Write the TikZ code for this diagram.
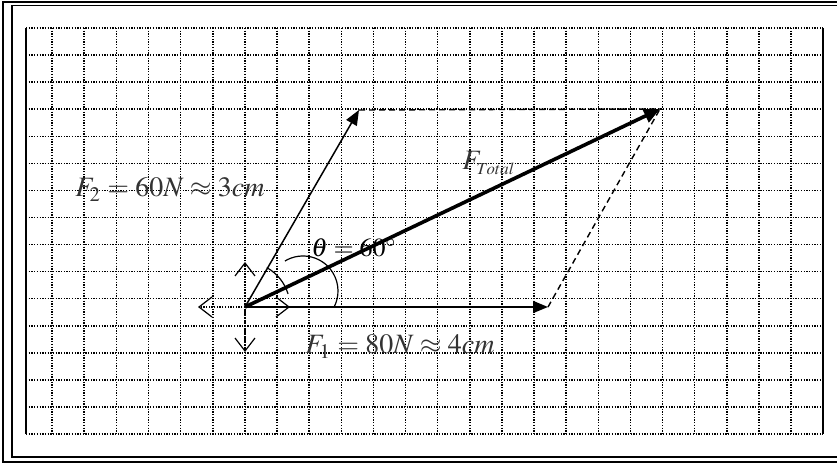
\documentclass[tikz,border=0pt]{standalone}
\usepackage{amsmath}
\usepackage{mathptmx}
\usetikzlibrary{arrows.meta, positioning, calc}

\begin{document}
\begin{tikzpicture}[x=0.5pt, y=-0.5pt,
  gridline/.style={line width=0.75pt, dash pattern=on 0.65pt off 0.7pt},
  force/.style={line width=0.75pt, -{Triangle[length=7.5pt,width=6pt]}},
  result/.style={line width=1.8pt, -{Triangle[length=8pt,width=7pt]}},
  helper/.style={line width=0.7pt, dash pattern=on 3pt off 2pt},
  axisline/.style={gridline, -{Straight Barb[length=6.5pt,width=10pt,line width=0.6pt]}},
  lbl/.style={font=\fontsize{14}{16}\selectfont, text=black!80, inner sep=0pt}]
\useasboundingbox (0,0) rectangle (837,464);
% double frame
\draw[line width=1.3pt] (837,2) -- (3,2) -- (3,462) -- (837,462);
\draw[line width=0.8pt] (837,5.7) -- (12,5.7) -- (12,457) -- (837,457);
% squared paper
\foreach \k in {0,...,15}
  \draw[gridline] (26,{28+27.07*\k}) -- (823,{28+27.07*\k});
\foreach \k in {0,...,23}
  \draw[gridline] ({52.1+32.13*\k},28) -- ({52.1+32.13*\k},434);
\draw[line width=0.8pt] (26,28) -- (26,434);
\draw[line width=0.8pt] (823,28) -- (823,434);

\coordinate (O) at (245,307);
\coordinate (F1) at (548,307);
\coordinate (F2) at (359,110);
\coordinate (R) at (660,109);
\coordinate (axL) at (198,307);
\coordinate (axU) at (245,262);
\coordinate (axD) at (245,352);
\coordinate (axR) at (290,307);
\coordinate (arcC) at (303,291);

% axes at the origin
\foreach \tip in {axL,axU,axD,axR}
  \draw[axisline] (O) -- (\tip);

% forces
\draw[helper] (F2) -- (R);
\draw[helper] (F1) -- (R);
\draw[force] (O) -- (F1);
\draw[force] (O) -- (F2);
\draw[result] (O) -- (R);

% angle marks
\draw[line width=0.6pt] ($(O)+(-61:45)$) arc[start angle=-61, end angle=-17, radius=45];
\draw[line width=0.6pt] ($(arcC)+(-121:35)$) arc[start angle=-121, end angle=28, radius=35];

% labels
\node[lbl, anchor=base west] (f2lbl) at (75,197) {$F_2 = 60N \approx 3cm$};
\node[lbl, anchor=base west] (f1lbl) at (305,354) {$F_1 = 80N \approx 4cm$};
\node[lbl, anchor=base west] (ftot) at (462,170) {$F_{\scriptscriptstyle Total}$};
\node[anchor=base west, inner sep=0pt, font=\fontsize{13}{15}\selectfont] (theta) at (311,257) {$\theta = 60^\circ$};
\end{tikzpicture}
\end{document}
